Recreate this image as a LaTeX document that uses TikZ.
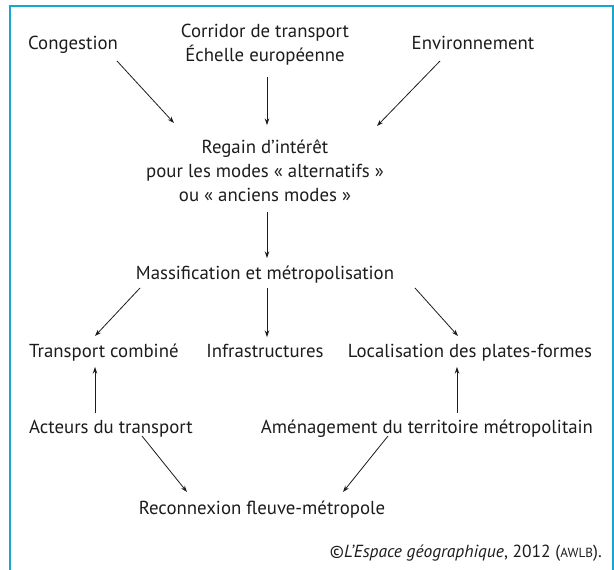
\documentclass[tikz,border=0pt]{standalone}
\usepackage{fontspec}
\setmainfont{PT Sans}
\usetikzlibrary{arrows.meta}
\definecolor{framecol}{RGB}{25,165,210}
\definecolor{ink}{RGB}{28,28,28}
\begin{document}
\begin{tikzpicture}[x=1pt,y=-1pt,
  lbl/.style={font=\fontsize{18.8}{24}\selectfont, inner sep=0pt, align=center, text=ink},
  one/.style={lbl, text height=13.5pt, text depth=4.5pt},
  arr/.style={draw=ink, line width=0.8pt, -{Stealth[length=6.5pt,width=4.5pt]}}]
\useasboundingbox (0,0) rectangle (614,570);
\draw[framecol, line width=1.6pt] (10,570) -- (10,6) -- (613,6) -- (613,570);

\node[one] (cong) at (73,45) {Congestion};
\node[lbl] (corr) at (265,44.5) {Corridor de transport\\Échelle européenne};
\node[one] (env) at (473,45) {Environnement};
\node[lbl] (regain) at (265,171) {Regain d’intérêt\\pour les modes « alternatifs »\\ou « anciens modes »};
\node[one] (mass) at (265,275) {Massification et métropolisation};
\node[one, anchor=west] (tc) at (29,353) {Transport combiné};
\node[one] (infra) at (265,353) {Infrastructures};
\node[one] (loc) at (470,353) {Localisation des plates-formes};
\node[one, anchor=west] (act) at (29,429) {Acteurs du transport};
\node[one] (amen) at (427,429) {Aménagement du territoire métropolitain};
\node[one] (recon) at (262,510) {Reconnexion fleuve-métropole};
\node[lbl, font=\fontsize{17.5}{19}\selectfont, anchor=east] (copy) at (602,553)
  {©\textit{L’Espace géographique}, 2012 ({\fontsize{13.2}{15}\selectfont AWLB}).};

\draw[arr] ([shift={(44,16)}]cong.center) -- ([shift={(-91,-48)}]regain.center);
\draw[arr] ([shift={(2,32.5)}]corr.center) -- ([shift={(2,-46)}]regain.center);
\draw[arr] ([shift={(-33,16)}]env.center) -- ([shift={(112,-45)}]regain.center);
\draw[arr] ([shift={(2,41)}]regain.center) -- ([shift={(2,-17)}]mass.center);
\draw[arr] ([shift={(-125,13)}]mass.center) -- ([shift={(66,-17)}]tc.west);
\draw[arr] ([shift={(2,13)}]mass.center) -- ([shift={(2,-16)}]infra.center);
\draw[arr] ([shift={(150,13)}]mass.center) -- ([shift={(-12,-17)}]loc.center);
\draw[arr] ([shift={(66,-16)}]act.west) -- ([shift={(66,14)}]tc.west);
\draw[arr] ([shift={(30,-16)}]amen.center) -- ([shift={(-13,14)}]loc.center);
\draw[arr] ([shift={(113,7)}]act.west) -- ([shift={(-75,-18)}]recon.center);
\draw[arr] ([shift={(-39,7)}]amen.center) -- ([shift={(81,-18)}]recon.center);
\end{tikzpicture}
\end{document}
